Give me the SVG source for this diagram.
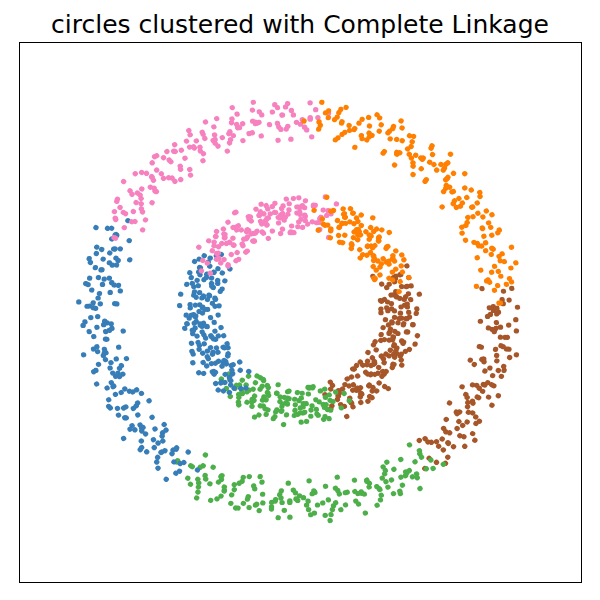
<svg xmlns="http://www.w3.org/2000/svg" xmlns:xlink="http://www.w3.org/1999/xlink" width="600" height="600" viewBox="0 0 600 600">
<style>
.title{font-family:"DejaVu Sans","Liberation Sans",sans-serif;font-size:25px;fill:#000}
.frame{fill:none;stroke:#000;stroke-width:1}
</style>
<defs>
<g id="o1"><circle cx="203.2" cy="-6.6" r="2.7"/><circle cx="187.6" cy="6.7" r="2.7"/><circle cx="208.7" cy="15.7" r="2.7"/><circle cx="198.4" cy="2.3" r="2.7"/><circle cx="215.8" cy="10.1" r="2.7"/><circle cx="193.5" cy="0.5" r="2.7"/><circle cx="200.5" cy="17.9" r="2.7"/><circle cx="180.4" cy="11.7" r="2.7"/><circle cx="205" cy="28.5" r="2.7"/><circle cx="190.4" cy="4.6" r="2.7"/></g>
<g id="o2"><circle cx="210.4" cy="4.2" r="2.7"/><circle cx="195.3" cy="-11.6" r="2.7"/><circle cx="201.9" cy="12.5" r="2.7"/><circle cx="185.3" cy="6.7" r="2.7"/><circle cx="206.7" cy="2.4" r="2.7"/><circle cx="197.5" cy="26.6" r="2.7"/><circle cx="221.2" cy="8.4" r="2.7"/><circle cx="189.8" cy="18.3" r="2.7"/><circle cx="199.7" cy="6.4" r="2.7"/><circle cx="211.9" cy="26.5" r="2.7"/></g>
<g id="o3"><circle cx="192.9" cy="13.4" r="2.7"/><circle cx="204.4" cy="-1.7" r="2.7"/><circle cx="183.2" cy="-6.3" r="2.7"/><circle cx="209.2" cy="7.9" r="2.7"/><circle cx="196.3" cy="15.3" r="2.7"/><circle cx="212.9" cy="-3.9" r="2.7"/><circle cx="188.8" cy="14.3" r="2.7"/><circle cx="202.3" cy="6.9" r="2.7"/><circle cx="194.5" cy="30.2" r="2.7"/><circle cx="216.9" cy="16.1" r="2.7"/></g>
<g id="o4"><circle cx="198.8" cy="-10.2" r="2.7"/><circle cx="207.9" cy="8.6" r="2.7"/><circle cx="188.5" cy="13.8" r="2.7"/><circle cx="200.4" cy="-10.2" r="2.7"/><circle cx="177.9" cy="9.1" r="2.7"/><circle cx="211.5" cy="14.4" r="2.7"/><circle cx="195.5" cy="3.5" r="2.7"/><circle cx="213.9" cy="25.2" r="2.7"/><circle cx="191.4" cy="12.2" r="2.7"/><circle cx="203.1" cy="17.5" r="2.7"/></g>
<g id="i1"><circle cx="94" cy="9.2" r="2.7"/><circle cx="111.2" cy="-1.1" r="2.7"/><circle cx="97.1" cy="-10.8" r="2.7"/><circle cx="116.5" cy="9" r="2.7"/><circle cx="86.6" cy="5.4" r="2.7"/><circle cx="104.8" cy="-1.9" r="2.7"/><circle cx="90.4" cy="20.3" r="2.7"/><circle cx="100.9" cy="5.7" r="2.7"/><circle cx="82" cy="-1.9" r="2.7"/><circle cx="108.1" cy="12" r="2.7"/></g>
<g id="i2"><circle cx="113.8" cy="-4.5" r="2.7"/><circle cx="96.7" cy="11.5" r="2.7"/><circle cx="106.1" cy="-9.6" r="2.7"/><circle cx="89.8" cy="-0.1" r="2.7"/><circle cx="102.3" cy="22.2" r="2.7"/><circle cx="84.4" cy="11.2" r="2.7"/><circle cx="108.8" cy="4" r="2.7"/><circle cx="99.2" cy="-8.5" r="2.7"/><circle cx="119.5" cy="15" r="2.7"/><circle cx="92" cy="8.6" r="2.7"/></g>
<g id="i3"><circle cx="100.4" cy="3.3" r="2.7"/><circle cx="91.4" cy="-6.7" r="2.7"/><circle cx="112.9" cy="15.3" r="2.7"/><circle cx="94.6" cy="7.6" r="2.7"/><circle cx="107.2" cy="-6.2" r="2.7"/><circle cx="81" cy="2.8" r="2.7"/><circle cx="103.3" cy="15.4" r="2.7"/><circle cx="87.9" cy="0.7" r="2.7"/><circle cx="109.5" cy="7.4" r="2.7"/><circle cx="97.9" cy="24.5" r="2.7"/></g>
<g id="i4"><circle cx="105.7" cy="-14" r="2.7"/><circle cx="85.9" cy="4.9" r="2.7"/><circle cx="101.6" cy="9.2" r="2.7"/><circle cx="110" cy="-3.9" r="2.7"/><circle cx="93.1" cy="2.8" r="2.7"/><circle cx="115.1" cy="16.7" r="2.7"/><circle cx="96.8" cy="-11.7" r="2.7"/><circle cx="79.5" cy="15" r="2.7"/><circle cx="106.8" cy="9.6" r="2.7"/><circle cx="98.8" cy="3.9" r="2.7"/></g>
</defs>
<rect width="600" height="600" fill="#fff"/>
<text class="title" x="300" y="33" text-anchor="middle">circles clustered with Complete Linkage</text>
<rect class="frame" x="19.5" y="42.5" width="562" height="540"/>
<g id="points" transform="translate(300 310) scale(1 0.96)">
<g id="cluster-brown" fill="#a65628">
<use href="#o3" transform="rotate(355)"/><use href="#o1" transform="rotate(0)"/><use href="#o3" transform="rotate(10) scale(1 -1)"/><use href="#o2" transform="rotate(10)"/><use href="#o4" transform="rotate(20) scale(1 -1)"/><use href="#o3" transform="rotate(20)"/><use href="#o1" transform="rotate(30) scale(1 -1)"/><use href="#o4" transform="rotate(30)"/><use href="#o2" transform="rotate(40) scale(1 -1)"/><use href="#o3" transform="rotate(45) scale(1 -1)"/><use href="#o1" transform="rotate(45)"/>
<use href="#i4" transform="rotate(345) scale(1 -1)"/><use href="#i2" transform="rotate(345)"/><use href="#i3" transform="rotate(355) scale(1 -1)"/><use href="#i1" transform="rotate(355)"/><use href="#i3" transform="rotate(0)"/><use href="#i4" transform="rotate(10) scale(1 -1)"/><use href="#i2" transform="rotate(10)"/><use href="#i2" transform="rotate(20) scale(1 -1)"/><use href="#i1" transform="rotate(25) scale(1 -1)"/><use href="#i1" transform="rotate(25)"/><use href="#i3" transform="rotate(35) scale(1 -1)"/><use href="#i4" transform="rotate(35)"/><use href="#i3" transform="rotate(40)"/><use href="#i2" transform="rotate(50) scale(1 -1)"/><use href="#i1" transform="rotate(50)"/><use href="#i4" transform="rotate(60) scale(1 -1)"/><use href="#i2" transform="rotate(60)"/><use href="#i3" transform="rotate(70) scale(1 -1)"/>
</g>
<g id="cluster-green" fill="#4daf4a">
<use href="#o4" transform="rotate(55) scale(1 -1)"/><use href="#o2" transform="rotate(55)"/><use href="#o1" transform="rotate(65) scale(1 -1)"/><use href="#o3" transform="rotate(65)"/><use href="#o2" transform="rotate(75) scale(1 -1)"/><use href="#o4" transform="rotate(75)"/><use href="#o2" transform="rotate(80)"/><use href="#o4" transform="rotate(90) scale(1 -1)"/><use href="#o1" transform="rotate(90)"/><use href="#o3" transform="rotate(100) scale(1 -1)"/><use href="#o4" transform="rotate(100)"/><use href="#o1" transform="rotate(110) scale(1 -1)"/><use href="#o3" transform="rotate(110)"/><use href="#o2" transform="rotate(120) scale(1 -1)"/><use href="#o4" transform="rotate(125) scale(1 -1)"/>
<use href="#i4" transform="rotate(70)"/><use href="#i1" transform="rotate(80) scale(1 -1)"/><use href="#i3" transform="rotate(85) scale(1 -1)"/><use href="#i1" transform="rotate(85)"/><use href="#i4" transform="rotate(95) scale(1 -1)"/><use href="#i4" transform="rotate(95)"/><use href="#i2" transform="rotate(105) scale(1 -1)"/><use href="#i2" transform="rotate(105)"/><use href="#i1" transform="rotate(115) scale(1 -1)"/><use href="#i3" transform="rotate(115)"/><use href="#i3" transform="rotate(120)"/><use href="#i4" transform="rotate(130) scale(1 -1)"/>
</g>
<g id="cluster-blue" fill="#377eb8">
<use href="#o2" transform="rotate(125)"/><use href="#o3" transform="rotate(135) scale(1 -1)"/><use href="#o1" transform="rotate(135)"/><use href="#o2" transform="rotate(145) scale(1 -1)"/><use href="#o4" transform="rotate(145)"/><use href="#o1" transform="rotate(155) scale(1 -1)"/><use href="#o3" transform="rotate(155)"/><use href="#o1" transform="rotate(160)"/><use href="#o2" transform="rotate(170) scale(1 -1)"/><use href="#o4" transform="rotate(170)"/><use href="#o3" transform="rotate(180) scale(1 -1)"/><use href="#o2" transform="rotate(180)"/><use href="#o1" transform="rotate(190) scale(1 -1)"/><use href="#o3" transform="rotate(190)"/><use href="#o4" transform="rotate(200) scale(1 -1)"/><use href="#o2" transform="rotate(205) scale(1 -1)"/>
<use href="#i1" transform="rotate(130)"/><use href="#i3" transform="rotate(140) scale(1 -1)"/><use href="#i2" transform="rotate(140)"/><use href="#i1" transform="rotate(150) scale(1 -1)"/><use href="#i4" transform="rotate(150)"/><use href="#i2" transform="rotate(160) scale(1 -1)"/><use href="#i4" transform="rotate(165) scale(1 -1)"/><use href="#i3" transform="rotate(165)"/><use href="#i1" transform="rotate(175) scale(1 -1)"/><use href="#i2" transform="rotate(175)"/><use href="#i3" transform="rotate(185) scale(1 -1)"/><use href="#i4" transform="rotate(185)"/><use href="#i2" transform="rotate(195) scale(1 -1)"/><use href="#i1" transform="rotate(195)"/><use href="#i3" transform="rotate(200)"/><use href="#i1" transform="rotate(210) scale(1 -1)"/>
</g>
<g id="cluster-pink" fill="#f781bf">
<use href="#o4" transform="rotate(205)"/><use href="#o1" transform="rotate(215) scale(1 -1)"/><use href="#o2" transform="rotate(215)"/><use href="#o3" transform="rotate(225) scale(1 -1)"/><use href="#o1" transform="rotate(225)"/><use href="#o4" transform="rotate(235) scale(1 -1)"/><use href="#o3" transform="rotate(235)"/><use href="#o3" transform="rotate(240)"/><use href="#o1" transform="rotate(250) scale(1 -1)"/><use href="#o2" transform="rotate(250)"/><use href="#o2" transform="rotate(260) scale(1 -1)"/><use href="#o4" transform="rotate(260)"/><use href="#o4" transform="rotate(270) scale(1 -1)"/><use href="#o1" transform="rotate(270)"/>
<use href="#i4" transform="rotate(210)"/><use href="#i2" transform="rotate(220) scale(1 -1)"/><use href="#i1" transform="rotate(220)"/><use href="#i3" transform="rotate(230) scale(1 -1)"/><use href="#i2" transform="rotate(230)"/><use href="#i4" transform="rotate(240) scale(1 -1)"/><use href="#i2" transform="rotate(245) scale(1 -1)"/><use href="#i3" transform="rotate(245)"/><use href="#i1" transform="rotate(255) scale(1 -1)"/><use href="#i4" transform="rotate(255)"/><use href="#i3" transform="rotate(265) scale(1 -1)"/><use href="#i1" transform="rotate(265)"/><use href="#i4" transform="rotate(275) scale(1 -1)"/><use href="#i2" transform="rotate(275)"/><use href="#i4" transform="rotate(280)"/>
</g>
<g id="cluster-orange" fill="#ff7f00">
<use href="#o3" transform="rotate(280) scale(1 -1)"/><use href="#o1" transform="rotate(285) scale(1 -1)"/><use href="#o4" transform="rotate(285)"/><use href="#o3" transform="rotate(295) scale(1 -1)"/><use href="#o2" transform="rotate(295)"/><use href="#o4" transform="rotate(305) scale(1 -1)"/><use href="#o1" transform="rotate(305)"/><use href="#o2" transform="rotate(315) scale(1 -1)"/><use href="#o3" transform="rotate(315)"/><use href="#o4" transform="rotate(320)"/><use href="#o3" transform="rotate(330) scale(1 -1)"/><use href="#o1" transform="rotate(330)"/><use href="#o1" transform="rotate(340) scale(1 -1)"/><use href="#o2" transform="rotate(345) scale(1 -1)"/><use href="#o2" transform="rotate(345)"/><use href="#o4" transform="rotate(355) scale(1 -1)"/>
<use href="#i2" transform="rotate(290) scale(1 -1)"/><use href="#i3" transform="rotate(290)"/><use href="#i1" transform="rotate(300) scale(1 -1)"/><use href="#i2" transform="rotate(300)"/><use href="#i4" transform="rotate(310) scale(1 -1)"/><use href="#i1" transform="rotate(310)"/><use href="#i3" transform="rotate(320) scale(1 -1)"/><use href="#i2" transform="rotate(325) scale(1 -1)"/><use href="#i4" transform="rotate(325)"/><use href="#i1" transform="rotate(335) scale(1 -1)"/><use href="#i3" transform="rotate(335)"/>
</g>
</g>
</svg>
